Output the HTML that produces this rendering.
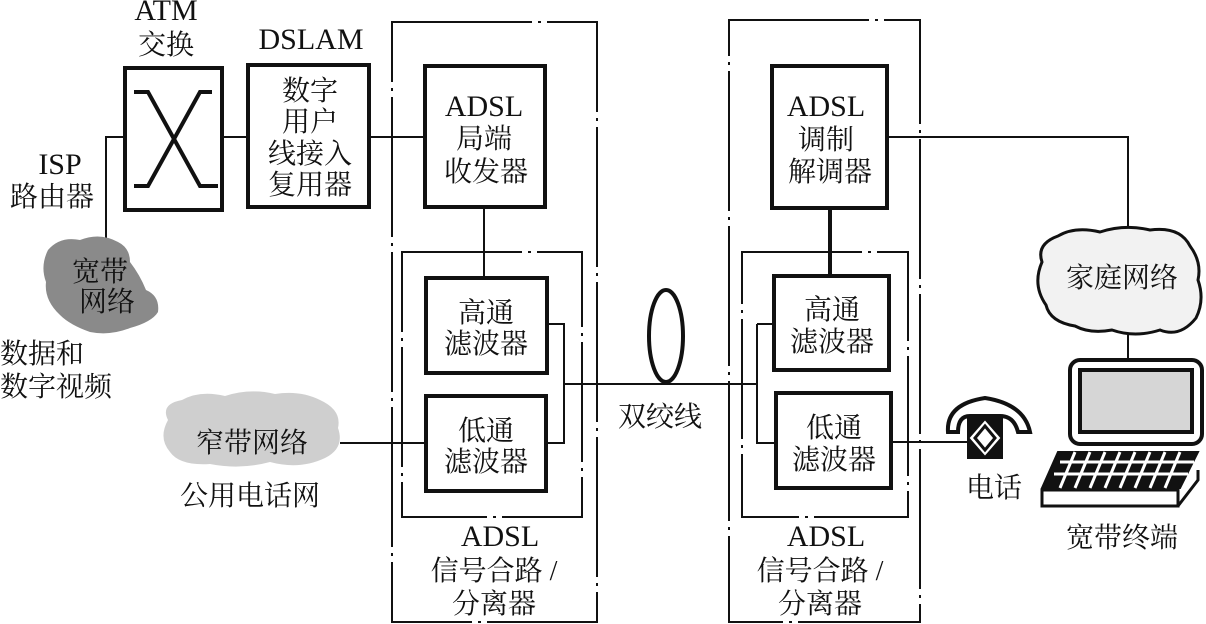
<!DOCTYPE html>
<html><head><meta charset="utf-8"><style>
html,body{margin:0;padding:0;background:#fff;}
svg{display:block;}
text{font-family:"Liberation Serif","Noto Serif CJK SC","Noto Sans CJK SC",serif;fill:#111;}
.l{font-family:"Liberation Serif",serif;font-size:30px;}
</style></head><body>
<svg width="1206" height="624" viewBox="0 0 1206 624" xmlns="http://www.w3.org/2000/svg">
<g fill="none" stroke="#111">
<path d="M392 22 H597 V622 H392 Z" stroke-width="2" stroke-dasharray="140 6 3 6"/>
<path d="M729 20 H920 V622 H729 Z" stroke-width="2" stroke-dasharray="140 6 3 6"/>
<path d="M402 252 H582 V517 H402 Z" stroke-width="2" stroke-dasharray="120 6 3 6"/>
<path d="M742 252 H908 V517 H742 Z" stroke-width="2" stroke-dasharray="120 6 3 6"/>
<rect x="125" y="68" width="97" height="142" stroke-width="4"/>
<path d="M134 186 H148 L200 92 H212 M134 92 H148 L200 186 H218" stroke-width="4"/>
<rect x="248" y="65" width="121" height="142" stroke-width="4"/>
<rect x="425" y="66" width="120" height="141" stroke-width="4"/>
<rect x="426" y="278" width="121" height="95" stroke-width="4"/>
<rect x="426" y="396" width="120" height="95" stroke-width="4"/>
<rect x="772" y="66" width="115" height="142" stroke-width="4"/>
<rect x="774" y="276" width="115" height="94" stroke-width="4"/>
<rect x="776" y="393" width="115" height="95" stroke-width="4"/>
<path d="M106 238 V137 H125 M222 137 H248 M369 137 H425" stroke-width="2"/>
<path d="M484 207 V278" stroke-width="2"/>
<path d="M547 324 H564 V443 H546 M564 384 H757 M757 324 H774 M757 324 V443 H776" stroke-width="2"/>
<path d="M830 208 V276" stroke-width="4"/>
<path d="M887 137 H1128 V228 M1128 335 V360" stroke-width="2"/>
<path d="M340 443 H426" stroke-width="2"/>
<path d="M891 442 H968" stroke-width="2"/>
<ellipse cx="666" cy="336" rx="17" ry="46" stroke-width="4"/>
</g>
<path d="M48 250 Q60 236 80 240 Q100 232 118 242 Q130 248 130 262 Q140 275 146 290 Q160 296 158 312 Q152 322 130 328 Q110 336 90 332 Q70 325 60 315 Q44 300 46 282 Q40 266 48 250 Z" fill="#8a8a8a"/>
<path d="M168 420 Q160 404 182 400 Q200 390 225 396 Q250 388 275 394 Q300 390 320 400 Q342 410 338 428 Q345 448 325 458 Q300 470 270 462 Q240 470 210 464 Q180 466 170 452 Q158 438 168 420 Z" fill="#cfcfcf"/>
<path d="M1042 262 Q1036 244 1058 236 Q1075 226 1100 232 Q1125 224 1150 230 Q1180 226 1190 246 Q1202 262 1198 280 Q1205 300 1196 318 Q1180 338 1160 330 Q1135 338 1112 330 Q1090 334 1075 326 Q1050 322 1046 305 Q1032 285 1042 262 Z" fill="#f2f2f2" stroke="#111" stroke-width="3"/>
<g stroke="#111" fill="none">
<path d="M948 432 Q946 404 985 398 Q1024 404 1030 432 L1018 432 Q1014 416 1000 416 L970 416 Q958 416 958 432 Z" fill="#fff" stroke-width="4"/>
<rect x="968" y="418" width="34" height="40" fill="#111" stroke-width="2"/>
<path d="M985 422 L999 438 L985 454 L971 438 Z" fill="#fff" stroke="#fff" stroke-width="2"/>
<path d="M985 426 L995 438 L985 450 L975 438 Z" fill="none" stroke="#111" stroke-width="3"/>
</g>
<g stroke="#111">
<rect x="1070" y="360" width="132" height="84" rx="10" fill="#fff" stroke-width="4"/>
<rect x="1080" y="370" width="112" height="62" fill="#d6d6d6" stroke-width="4"/>
<path d="M1058 452 L1198 452 L1180 488 L1042 488 Z" fill="#111" stroke-width="2"/>
<g stroke="#fff" stroke-width="3">
<path d="M1060 462 H1194 M1054 474 H1188"/>
<path d="M1075 452 L1060 488 M1090 452 L1075 488 M1105 452 L1090 488 M1120 452 L1105 488 M1135 452 L1120 488 M1150 452 L1135 488 M1165 452 L1150 488 M1180 452 L1165 488"/>
</g>
<path d="M1042 490 H1178 V506 H1042 Z" fill="#fff" stroke-width="3"/>
<path d="M1178 506 L1198 480 V470" fill="none" stroke-width="3"/>
</g>
<g font-size="28">
<text class="l" x="166" y="20" text-anchor="middle">ATM</text>
<text x="166" y="54" text-anchor="middle">交换</text>
<text class="l" x="311" y="49" text-anchor="middle">DSLAM</text>
<text x="310" y="100" text-anchor="middle">数字</text>
<text x="310" y="131" text-anchor="middle">用户</text>
<text x="310" y="163" text-anchor="middle">线接入</text>
<text x="310" y="194" text-anchor="middle">复用器</text>
<text class="l" x="60" y="174" text-anchor="middle">ISP</text>
<text x="52" y="206" text-anchor="middle">路由器</text>
<text x="100" y="281" text-anchor="middle">宽带</text>
<text x="107" y="311" text-anchor="middle">网络</text>
<text x="0" y="363">数据和</text>
<text x="0" y="396">数字视频</text>
<text class="l" x="484" y="116" text-anchor="middle">ADSL</text>
<text x="484" y="148" text-anchor="middle">局端</text>
<text x="486" y="181" text-anchor="middle">收发器</text>
<text x="486" y="322" text-anchor="middle">高通</text>
<text x="486" y="353" text-anchor="middle">滤波器</text>
<text x="486" y="440" text-anchor="middle">低通</text>
<text x="486" y="471" text-anchor="middle">滤波器</text>
<text x="252" y="452" text-anchor="middle">窄带网络</text>
<text x="250" y="505" text-anchor="middle">公用电话网</text>
<text x="660" y="426" text-anchor="middle">双绞线</text>
<text class="l" x="500" y="546" text-anchor="middle">ADSL</text>
<text x="494" y="580" text-anchor="middle">信号合路 /</text>
<text x="494" y="613" text-anchor="middle">分离器</text>
<text class="l" x="826" y="546" text-anchor="middle">ADSL</text>
<text x="820" y="580" text-anchor="middle">信号合路 /</text>
<text x="820" y="613" text-anchor="middle">分离器</text>
<text class="l" x="826" y="116" text-anchor="middle">ADSL</text>
<text x="826" y="149" text-anchor="middle">调制</text>
<text x="830" y="181" text-anchor="middle">解调器</text>
<text x="832" y="319" text-anchor="middle">高通</text>
<text x="832" y="351" text-anchor="middle">滤波器</text>
<text x="834" y="437" text-anchor="middle">低通</text>
<text x="834" y="469" text-anchor="middle">滤波器</text>
<text x="994" y="497" text-anchor="middle">电话</text>
<text x="1122" y="287" text-anchor="middle">家庭网络</text>
<text x="1122" y="547" text-anchor="middle">宽带终端</text>
</g>
</svg>
</body></html>
